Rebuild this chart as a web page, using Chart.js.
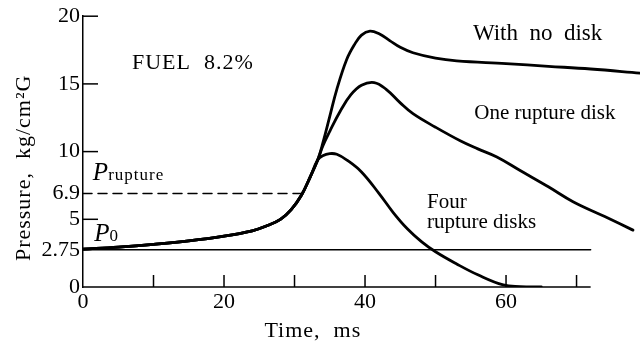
<!DOCTYPE html>
<html>
<head>
<meta charset="utf-8">
<script src="https://cdn.jsdelivr.net/npm/chart.js@4"></script>
<style>
  html, body { margin: 0; padding: 0; background: #fff; }
  #wrap { width: 642px; height: 343px; }
</style>
</head>
<body>
<div id="wrap"><canvas id="myChart"></canvas></div>
<script>
// common rise before the curves split (ms, kg/cm2G)
var riseTime = [0, 5, 10, 15, 20, 24, 26, 28, 29.5, 31, 32.2, 33.3];
var risePressure = [2.8, 2.95, 3.15, 3.4, 3.75, 4.15, 4.5, 5.0, 5.7, 6.8, 8.1, 9.4];

var noDiskTime = [34, 35, 36, 37.4, 38.5, 39.5, 40.7, 42, 43.5, 45, 46.8, 50, 53, 60, 66, 72, 79];
var noDiskPressure = [10.6, 12.6, 14.6, 16.8, 17.9, 18.6, 18.9, 18.7, 18.2, 17.7, 17.3, 16.9, 16.7, 16.5, 16.3, 16.1, 15.8];

var oneDiskTime = [34, 35, 36.5, 38, 39.5, 41.3, 43, 45, 46.8, 50, 53.5, 56, 58.7, 62, 66, 69.5, 74, 78];
var oneDiskPressure = [10.4, 11.5, 13.0, 14.2, 14.9, 15.1, 14.6, 13.6, 12.8, 11.8, 10.8, 10.2, 9.6, 8.6, 7.4, 6.3, 5.2, 4.2];

var fourDiskTime = [34, 35, 36, 37.5, 39.5, 42, 44, 46, 48, 50, 53, 56, 59.6, 62, 65];
var fourDiskPressure = [9.7, 9.85, 9.8, 9.35, 8.5, 6.9, 5.5, 4.3, 3.35, 2.6, 1.7, 0.9, 0.15, 0.03, 0];

var p0Time = [0, 72];
var p0Pressure = [2.75, 2.75];
var ruptureTime = [0, 31.1];
var rupturePressure = [6.9, 6.9];

var yTickValues = [0, 2.75, 5, 6.9, 10, 15, 20];
var yTickLabels = ['0', '2.75', '5', '6.9', '10', '15', '20'];
var xTickValues = [0, 10, 20, 30, 40, 50, 60, 70];

function pts(t, p) {
  return t.map(function (v, i) { return { x: v, y: p[i] }; });
}
function withRise(t, p) {
  return pts(riseTime.concat(t), risePressure.concat(p));
}

var SERIF = '"Liberation Serif", "Times New Roman", serif';

var drawExtras = {
  id: 'drawExtras',
  afterDraw: function (chart) {
    var ctx = chart.ctx;
    var xs = chart.scales.x, ys = chart.scales.y;
    var y0 = ys.getPixelForValue(0);
    ctx.save();
    ctx.strokeStyle = '#000';
    ctx.lineWidth = 1.5;
    // x axis line stops at 72 ms
    ctx.beginPath();
    ctx.moveTo(xs.getPixelForValue(0), y0);
    ctx.lineTo(xs.getPixelForValue(72), y0);
    ctx.stroke();
    // x tick marks pointing up
    xTickValues.forEach(function (v) {
      if (v === 0) return;
      var px = xs.getPixelForValue(v);
      ctx.beginPath();
      ctx.moveTo(px, y0);
      ctx.lineTo(px, y0 - 12);
      ctx.stroke();
    });
    // y tick marks pointing right
    [5, 10, 15, 20].forEach(function (v) {
      var py = ys.getPixelForValue(v);
      ctx.beginPath();
      ctx.moveTo(xs.left, py);
      ctx.lineTo(xs.left + 15, py);
      ctx.stroke();
    });

    ctx.fillStyle = '#000';
    ctx.textBaseline = 'alphabetic';
    ctx.textAlign = 'left';
    function txt(s, xv, yv, size, spacing) {
      ctx.font = size + 'px ' + SERIF;
      ctx.letterSpacing = (spacing || 0) + 'px';
      ctx.fillText(s, xs.getPixelForValue(xv), ys.getPixelForValue(yv));
    }
    txt('With  no  disk', 55.3, 18.24, 23);
    txt('One rupture disk', 55.5, 12.4, 21);
    txt('Four', 48.8, 5.8, 21);
    txt('rupture disks', 48.8, 4.34, 21);
    txt('FUEL  8.2%', 6.95, 16.1, 22, 1);

    // P rupture and P0
    ctx.letterSpacing = '0px';
    ctx.font = 'italic 25px ' + SERIF;
    var px1 = xs.getPixelForValue(1.4), py1 = ys.getPixelForValue(7.87);
    ctx.fillText('P', px1, py1);
    var w1 = ctx.measureText('P').width;
    ctx.font = '17px ' + SERIF;
    ctx.letterSpacing = '1px';
    ctx.fillText('rupture', px1 + w1, py1);

    ctx.letterSpacing = '0px';
    ctx.font = 'italic 25px ' + SERIF;
    var px2 = xs.getPixelForValue(1.6), py2 = ys.getPixelForValue(3.38);
    ctx.fillText('P', px2, py2);
    var w2 = ctx.measureText('P').width;
    ctx.font = '17px ' + SERIF;
    ctx.fillText('0', px2 + w2, py2);

    // axis titles
    ctx.font = '22px ' + SERIF;
    ctx.letterSpacing = '1px';
    ctx.textAlign = 'center';
    ctx.fillText('Time,  ms', xs.getPixelForValue(32.6), chart.chartArea.bottom + 50);
    ctx.translate(chart.chartArea.left - 53, ys.getPixelForValue(8.8));
    ctx.rotate(-Math.PI / 2);
    ctx.fillText('Pressure,  kg/cm\u00B2G', 0, 0);
    ctx.restore();
  }
};

var ctx = document.getElementById('myChart').getContext('2d');
var pressureChart = new Chart(ctx, {
  type: 'line',
  data: {
    datasets: [
      { data: withRise(noDiskTime, noDiskPressure), borderWidth: 2.8 },
      { data: withRise(oneDiskTime, oneDiskPressure), borderWidth: 2.8 },
      { data: withRise(fourDiskTime, fourDiskPressure), borderWidth: 2.8 },
      { data: pts(p0Time, p0Pressure), borderWidth: 1.5, tension: 0 },
      { data: pts(ruptureTime, rupturePressure), borderWidth: 1.5, borderDash: [9, 6], tension: 0 }
    ]
  },
  plugins: [drawExtras],
  options: {
    responsive: true,
    maintainAspectRatio: false,
    animation: false,
    layout: { padding: { left: 0, right: 2, top: 15, bottom: 0 } },
    elements: {
      point: { radius: 0 },
      line: { borderColor: '#000', tension: 0.4, fill: false, borderJoinStyle: 'round', borderCapStyle: 'round' }
    },
    plugins: { legend: { display: false }, tooltip: { enabled: false } },
    scales: {
      x: {
        type: 'linear',
        min: 0,
        max: 79,
        grid: { display: false, drawTicks: false },
        border: { display: false },
        afterBuildTicks: function (scale) {
          scale.ticks = xTickValues.map(function (v) { return { value: v }; });
        },
        afterFit: function (scale) { scale.height = 56; },
        ticks: {
          padding: 2,
          maxRotation: 0,
          autoSkip: false,
          color: '#000',
          font: { family: SERIF, size: 22 },
          callback: function (v) { return v % 20 === 0 ? String(v) : ''; }
        }
      },
      y: {
        min: 0,
        max: 20,
        grid: { display: false, drawTicks: false },
        border: { display: true, color: '#000', width: 1.5 },
        afterBuildTicks: function (scale) {
          scale.ticks = yTickValues.map(function (v) { return { value: v }; });
        },
        afterFit: function (scale) { scale.width = 83; },
        ticks: {
          padding: 3,
          autoSkip: false,
          color: '#000',
          font: { family: SERIF, size: 22 },
          callback: function (v) {
            var i = yTickValues.indexOf(v);
            return i >= 0 ? yTickLabels[i] : '';
          }
        }
      }
    }
  }
});
</script>
</body>
</html>
